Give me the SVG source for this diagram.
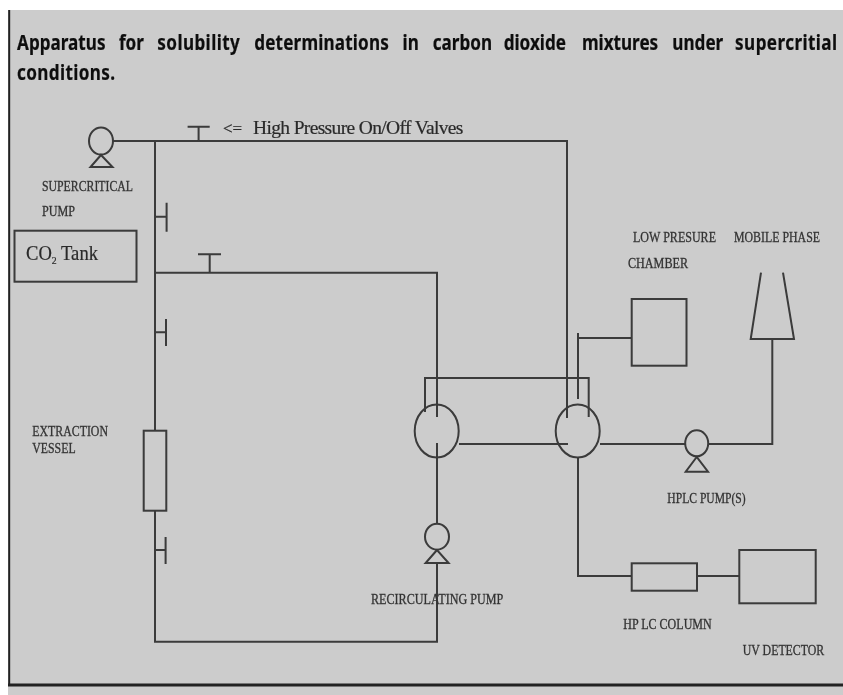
<svg xmlns="http://www.w3.org/2000/svg" width="843" height="695" viewBox="0 0 843 695">
<style>
.l{fill:none;stroke:#3a3a3a;stroke-width:2}
.b{fill:none;stroke:#3a3a3a;stroke-width:2}
.t{font-family:"Liberation Serif","Times New Roman",serif;fill:#333;stroke:#333;stroke-width:.3;font-size:14.500px}
.h{font-family:"Noto Sans","Open Sans",sans-serif;font-weight:700;fill:#111;stroke:#111;stroke-width:.2;font-size:21px}
.s{font-family:"Liberation Serif","Times New Roman",serif;fill:#2a2a2a;stroke:#2a2a2a;stroke-width:.2}
</style>
<defs><filter id="s" x="-5%" y="-5%" width="110%" height="110%"><feGaussianBlur stdDeviation="0.6"/></filter></defs>
<rect width="843" height="695" fill="#fff"/>
<rect x="8" y="10" width="835" height="685" fill="#ccc"/>
<g filter="url(#s)">
<path d="M9.200 10V685" stroke="#222" stroke-width="2" fill="none"/>
<path d="M8 685H843" stroke="#222" stroke-width="3" fill="none"/>
<text class="h" transform="scale(.815 1)" y="50"><tspan x="21">Apparatus</tspan><tspan x="146">for</tspan><tspan x="193" letter-spacing=".5">solubility</tspan><tspan x="312" letter-spacing=".2">determinations</tspan><tspan x="494">in</tspan><tspan x="531">carbon</tspan><tspan x="618">dioxide</tspan><tspan x="714">mixtures</tspan><tspan x="825">under</tspan><tspan x="902" letter-spacing=".5">supercritial</tspan></text>
<text class="h" transform="scale(.815 1)" x="21" y="80" letter-spacing=".45">conditions.</text>
<g id="connectors">
<path class="l" d="M113 141H567V418"/>
<path class="l" d="M155 141V430.700M155 510.700V641.700H437V563"/>
<path class="l" d="M155 272.700H437V417"/>
<path class="l" d="M437 443V523"/>
<path class="l" d="M425 412V378H588.700V417"/>
<path class="l" d="M578 399V333M578 338H632"/>
<path class="l" d="M459 444H568M600 444H685M708 444H772.300V339"/>
<path class="l" d="M578 458V576H632M697 576H739"/>
</g>
<g id="valve-1"><path class="l" d="M187.600 126.700H209.700M198.600 126.700V141"/></g>
<g id="valve-2"><path class="l" d="M155 216.700H166.600M166.600 202.700V231.700"/></g>
<g id="valve-3"><path class="l" d="M198 254.300H221M209.700 254.300V272"/></g>
<g id="valve-4"><path class="l" d="M155 332.300H166M166 319V346"/></g>
<g id="valve-5"><path class="l" d="M155 550H165.600M165.600 537V564"/></g>
<g id="supercritical-pump"><ellipse class="b" cx="101" cy="141" rx="12" ry="13.500"/><path class="b" d="M101 155L90.500 167H112.500Z"/>
<text class="t" x="42" y="191" textLength="91" lengthAdjust="spacingAndGlyphs">SUPERCRITICAL</text><text class="t" x="42" y="216" textLength="33" lengthAdjust="spacingAndGlyphs">PUMP</text></g>
<g id="co2-tank"><rect class="b" x="14.500" y="230.700" width="122" height="51"/>
<text class="s" x="26" y="260" font-size="21" textLength="72" lengthAdjust="spacingAndGlyphs">CO<tspan font-size="11" dy="4">2</tspan><tspan dy="-4"> Tank</tspan></text></g>
<text id="valve-label" class="s" y="134" font-size="19.500"><tspan x="223" font-size="17">&lt;= </tspan><tspan x="253" letter-spacing="-.65">High Pressure On/Off Valves</tspan></text>
<g id="extraction-vessel"><rect class="b" x="143.700" y="430.700" width="22.600" height="80"/>
<text class="t" x="32.300" y="436" textLength="75.700" lengthAdjust="spacingAndGlyphs">EXTRACTION</text><text class="t" x="32.300" y="452.700" textLength="43.300" lengthAdjust="spacingAndGlyphs">VESSEL</text></g>
<g id="valve-left"><ellipse class="b" cx="436.700" cy="431" rx="22" ry="26.500"/></g>
<g id="valve-right"><ellipse class="b" cx="577.700" cy="431" rx="22" ry="26.500"/></g>
<g id="recirculating-pump"><ellipse class="b" cx="437" cy="536.700" rx="12" ry="13"/><path class="b" d="M437 550L425.600 563H448.600Z"/>
<text class="t" x="371" y="604" textLength="132.300" lengthAdjust="spacingAndGlyphs">RECIRCULATING PUMP</text></g>
<g id="low-pressure-chamber"><rect class="b" x="631.700" y="299" width="54.800" height="66.700"/>
<text class="t" x="633" y="242" textLength="83" lengthAdjust="spacingAndGlyphs">LOW PRESURE</text><text class="t" x="628" y="267.700" textLength="60" lengthAdjust="spacingAndGlyphs">CHAMBER</text></g>
<g id="mobile-phase"><path class="b" d="M761 272.700L750.700 339H794L783 272.700"/>
<text class="t" x="734" y="242" textLength="86" lengthAdjust="spacingAndGlyphs">MOBILE PHASE</text></g>
<g id="hplc-pump"><ellipse class="b" cx="696.700" cy="443.300" rx="11.500" ry="13"/><path class="b" d="M696.700 457L685.700 471.700H708Z"/>
<text class="t" x="667.300" y="503" textLength="78.400" lengthAdjust="spacingAndGlyphs">HPLC PUMP(S)</text></g>
<g id="hp-lc-column"><rect class="b" x="631.700" y="563.300" width="65.300" height="27.400"/>
<text class="t" x="623.300" y="629" textLength="88.400" lengthAdjust="spacingAndGlyphs">HP LC COLUMN</text></g>
<g id="uv-detector"><rect class="b" x="739.300" y="550" width="76.400" height="53.300"/>
<text class="t" x="742.700" y="655" textLength="81.600" lengthAdjust="spacingAndGlyphs">UV DETECTOR</text></g>
</g>
</svg>
